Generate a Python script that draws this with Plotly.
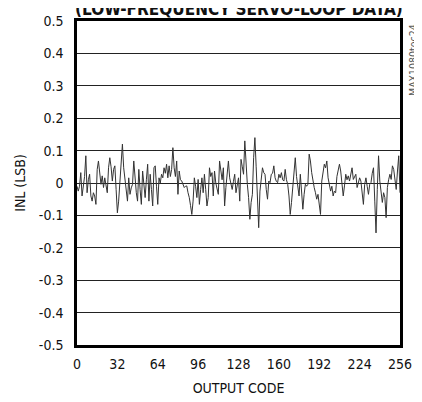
import plotly.graph_objects as go

title_text = "(LOW-FREQUENCY SERVO-LOOP DATA)"
x_title = "OUTPUT CODE"
y_title = "INL (LSB)"
x_ticks = [0, 32, 64, 96, 128, 160, 192, 224, 256]
y_ticks = [-0.5, -0.4, -0.3, -0.2, -0.1, 0, 0.1, 0.2, 0.3, 0.4, 0.5]
y_tick_labels = ["-0.5", "-0.4", "-0.3", "-0.2", "-0.1", "0", "0.1", "0.2", "0.3", "0.4", "0.5"]

# INL in hundredths of an LSB, one value per output code 0..256
inl_centi = [
    -1, -2.5, -1, 3.2, -4, 0, 2, 8.4, -3, 1, 2.7, -4, -5.6, -3, -4, -6.6,
    4.2, 6.8, 2, -0.4, 2.2, -1.4, 1.6, -1, -3, 4.7, 7.8, 5, 0.6, 4.2, 5.3, -2,
    -9.2, -5.6, 1.6, 6, 12, 4.7, 0.6, -2, -5.6, 1.6, -3.5, -1.5, -0.4, 6.8, 1.6, -3,
    -5.6, 4.2, -2, -6.6, 3.7, -0.4, -4.5, 1, 5.8, -5.6, 2.7, -2, -7.1, 4.7, 5.3, -1,
    -6.6, 1.6, 0, 2.7, 1.6, 4.7, 3, 5.8, 1.6, 5.3, 2, 4.2, 10.9, 4.7, 2, 6.8,
    -3.5, 3.7, 1, 0.6, -0.4, -1.4, -1, -0.9, -3, -4.5, -7, -9.7, -5.6, 1.6, -1, -4.5,
    1.1, -6.6, -2, 1.6, -3, 2.7, -2, -7.1, -4.5, 4.7, 2, 3.2, -4, 3.7, 0, -1.4,
    -3.5, 6.8, 3.7, 1, 4.7, -7.1, -1.4, 3, 6.8, 1.6, -0.4, -2, 0.5, 2.7, -3, -1,
    1.6, -5.6, 7.3, 5, 2.7, 13, 4, -0.4, -4.5, -11.2, -6, -3.5, 7.8, 14, 5, -5,
    -13.8, -2.5, 2, 4.7, 3.2, 2.7, -2, -5, 0.6, 0.1, 2.7, 3, 5.3, 1.6, 0.5, 0.1,
    2.7, 1.6, 3.2, 1, 0.6, 4.2, 1, -0.4, -4, -9.7, -6, -2, 1.6, 7.8, 2, -1.4,
    -4, 2.7, -2, -8.1, -3.5, -0.4, -1, -0.4, 8.9, 6.8, 3.2, 0, -1.4, -3, -5, -3.5,
    -6, -9.7, 0.6, 3, 5.8, 4.7, 6.8, 1.6, -0.4, -2.5, -1, -4, -2.5, -3, 2, 4.7,
    5.8, 3.7, -1, -4, -0.9, 2.7, 1, 2.2, 0.6, 2.7, 4.7, 1.1, 2, 2.7, -1.4, 0,
    1.6, 0.6, -3, -6.6, -0.4, 1.6, -1, -3.5, -0.4, 0.1, 3, 4.7, -5.6, -15.4, -2, 8.4,
    0.6, -2.5, -6, -3, -4.5, -10.7, -1.4, 1, 2.7, 1.1, 5.3, 4.2, 1, -2, 3.7, 8.4,
    -3,
]
codes = list(range(len(inl_centi)))
inl = [v / 100 for v in inl_centi]

FONT = "DejaVu Sans Condensed, Liberation Sans Narrow, Arial Narrow, sans-serif"

fig = go.Figure()
fig.add_trace(go.Scatter(
    x=codes, y=inl, mode="lines",
    line=dict(color="#333333", width=1),
    hoverinfo="skip", showlegend=False,
))

fig.update_layout(
    width=422, height=402,
    margin=dict(l=69, r=30, t=13, b=65, autoexpand=False),
    paper_bgcolor="white", plot_bgcolor="white",
    font=dict(family=FONT, size=14, color="#111"),
    xaxis=dict(
        range=[0, 256], tickmode="array", tickvals=x_ticks,
        ticktext=[str(t) for t in x_ticks],
        showgrid=False, zeroline=False, ticks="",
        showline=True, linecolor="black", linewidth=2.5, mirror=True,
        title=dict(text=x_title, font=dict(family=FONT, size=14), standoff=13),
        tickfont=dict(family=FONT, size=14),
        ticklabelstandoff=4, automargin=False,
    ),
    yaxis=dict(
        range=[-0.5, 0.5], tickmode="array", tickvals=y_ticks,
        ticktext=y_tick_labels,
        showgrid=True, gridcolor="#222", gridwidth=1,
        zeroline=False, ticks="",
        showline=True, linecolor="black", linewidth=2.5, mirror=True,
        title=dict(text=y_title, font=dict(family=FONT, size=14), standoff=10),
        tickfont=dict(family=FONT, size=14),
        ticklabelstandoff=8, automargin=False,
    ),
    annotations=[
        dict(text="<b>" + title_text + "</b>", xref="paper", yref="paper",
             x=0.5, y=1, xanchor="center", yanchor="bottom", yshift=0,
             showarrow=False, font=dict(family=FONT, size=17, color="#111")),
        dict(text="MAX1080toc24", xref="paper", yref="paper",
             x=1, y=1, xanchor="left", yanchor="top", xshift=5, yshift=-1,
             textangle=-90, showarrow=False,
             font=dict(family=FONT, size=10.5, color="#555")),
    ],
)

fig.write_html("out.html")
